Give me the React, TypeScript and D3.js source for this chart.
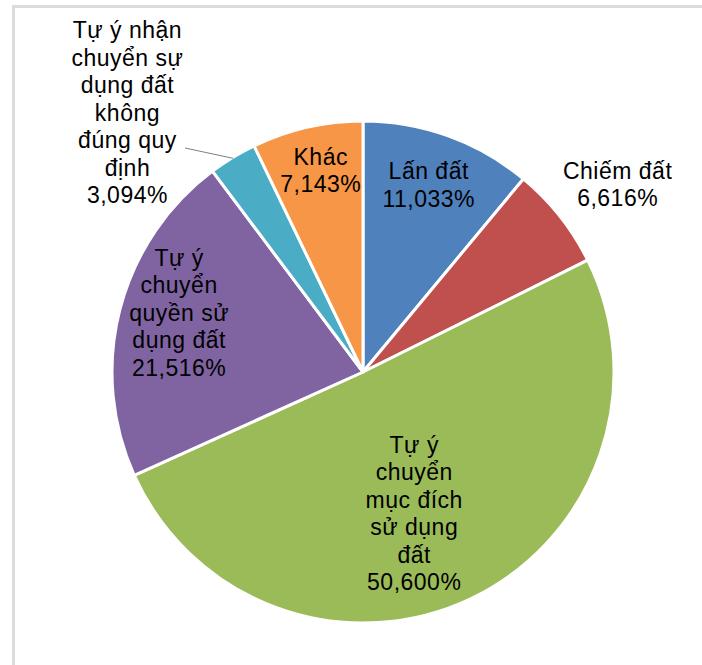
import React from "react";
import * as d3 from "d3";

const categories = [
  "Lấn đất",
  "Chiếm đất",
  "Tự ý chuyển mục đích sử dụng đất",
  "Tự ý chuyển quyền sử dụng đất",
  "Tự ý nhận chuyển sự dụng đất không đúng quy định",
  "Khác",
];
const values = [11.033, 6.616, 50.6, 21.516, 3.094, 7.143];
const valueLabels = ["11,033%", "6,616%", "50,600%", "21,516%", "3,094%", "7,143%"];
const labelLines = [
  ["Lấn đất"],
  ["Chiếm đất"],
  ["Tự ý", "chuyển", "mục đích", "sử dụng", "đất"],
  ["Tự ý", "chuyển", "quyền sử", "dụng đất"],
  ["Tự ý nhận", "chuyển sự", "dụng đất", "không", "đúng quy", "định"],
  ["Khác"],
];
const colors = ["#4F81BD", "#C0504D", "#9BBB59", "#8064A2", "#4BACC6", "#F79646"];

// label layout: radius factor and angle offset (degrees) relative to slice middle
const labelLayout = [
  { rf: 0.79, da: -0.5 },
  { rf: 1.26, da: 2 },
  { rf: 0.6, da: 5.5 },
  { rf: 0.77, da: 3.5 },
  { rf: 1.395, da: -11 },
  { rf: 0.82, da: 1 },
];

export default function App() {
  const W = 702, H = 665;
  const cx = 363, cy = 372, R = 251;
  const lineH = 27.5;
  const pie = d3.pie<number>().sort(null).value((d) => d);
  const arcs = pie(values);
  const arc = d3.arc<d3.PieArcDatum<number>>().innerRadius(0).outerRadius(R);

  return (
    <svg width={W} height={H} style={{ position: "absolute", left: 0, top: 0 }}
      fontFamily="'Liberation Sans', Arial, sans-serif">
      <rect x={0} y={0} width={W} height={H} fill="#fff" />
      <line x1={13.5} y1={6.5} x2={W} y2={6.5} stroke="#dcdcdc" strokeWidth={3} />
      <line x1={13.5} y1={5} x2={13.5} y2={H} stroke="#dcdcdc" strokeWidth={3} />
      <g transform={`translate(${cx},${cy})`}>
        {arcs.map((a, i) => (
          <path key={categories[i]} d={arc(a) || ""} fill={colors[i]} stroke="#fff" strokeWidth={3} strokeLinejoin="round" />
        ))}
        {arcs.map((a, i) => {
          const mid = (a.startAngle + a.endAngle) / 2 + (labelLayout[i].da * Math.PI) / 180;
          const r = R * labelLayout[i].rf;
          const x = r * Math.sin(mid);
          const y = -r * Math.cos(mid);
          const lines = [...labelLines[i], valueLabels[i]];
          const y0 = y - ((lines.length - 1) * lineH) / 2;
          return (
            <text key={"t" + i} x={x} y={y0} textAnchor="middle" dominantBaseline="central"
              fontSize={23} fill="#000" letterSpacing={0.5}>
              {lines.map((l, j) => (
                <tspan key={j} x={x} y={y0 + j * lineH}>{l}</tspan>
              ))}
            </text>
          );
        })}
        {(() => {
          const a = arcs[4];
          const mid = (a.startAngle + a.endAngle) / 2;
          const ex = (R - 1) * Math.sin(mid);
          const ey = -(R - 1) * Math.cos(mid);
          return <line x1={185 - cx} y1={148 - cy} x2={ex} y2={ey} stroke="#808080" strokeWidth={1} />;
        })()}
      </g>
    </svg>
  );
}
